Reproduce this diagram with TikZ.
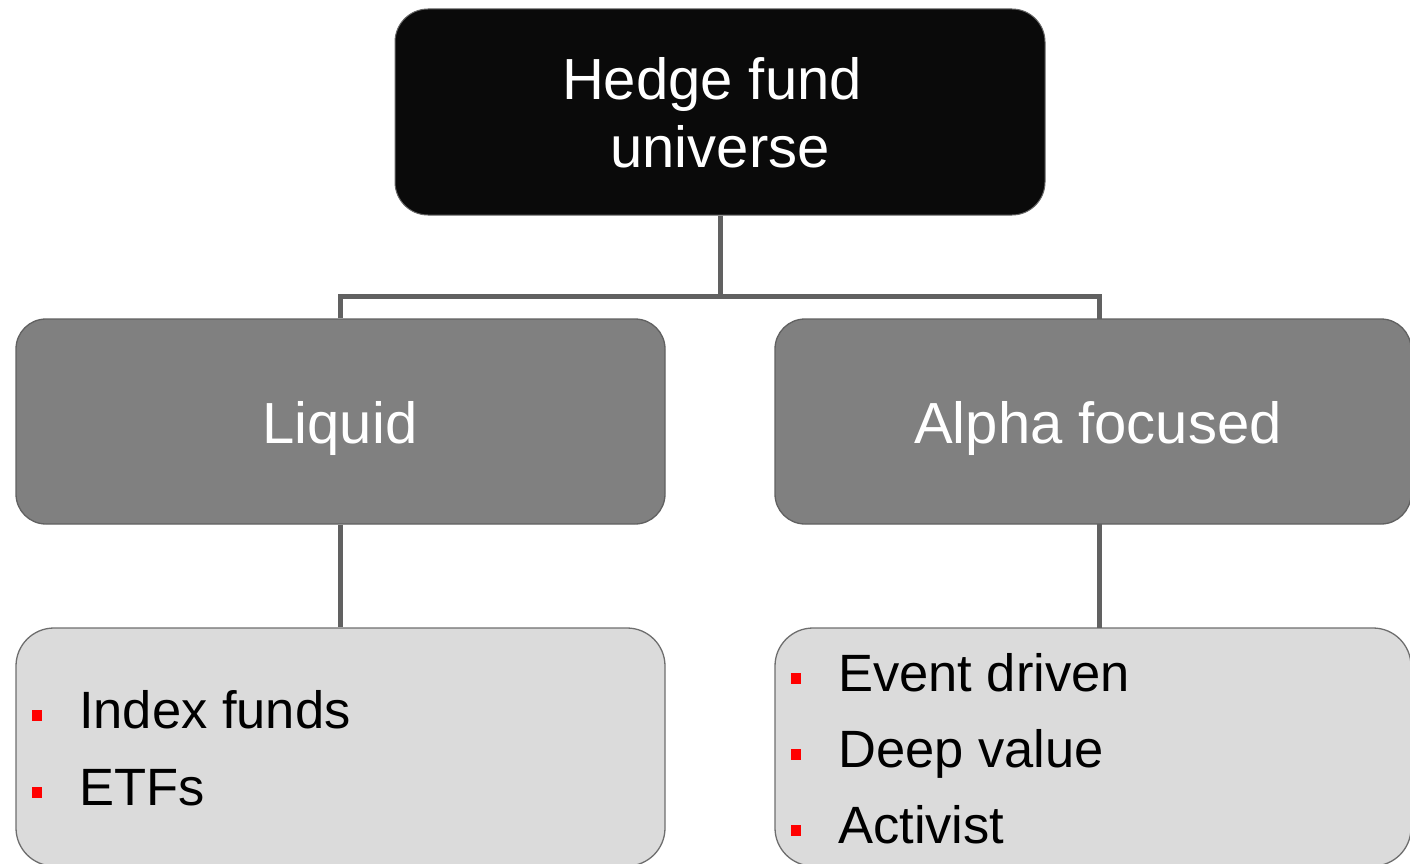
\documentclass[tikz,border=0pt]{standalone}
\usepackage{fontspec}
\setmainfont{Liberation Sans}
\begin{document}
\begin{tikzpicture}[x=1pt,y=-1pt,
  topbox/.style={draw=black!60,line width=1pt,fill=black!96,rounded corners=33pt,inner sep=0pt},
  midbox/.style={draw=black!62,line width=1.3pt,fill=black!50,rounded corners=30pt,inner sep=0pt},
  lowbox/.style={draw=black!57,line width=1.3pt,fill=black!14,rounded corners=38pt,inner sep=0pt},
  conn/.style={draw=black!62,line width=5pt},
  bigtxt/.style={font=\fontsize{58}{67}\selectfont,text=white,inner sep=0pt,anchor=base},
  itemtxt/.style={font=\fontsize{52.5}{76}\selectfont,text=black,inner sep=0pt,anchor=base west},
  bul/.style={fill=red,minimum width=9.5pt,minimum height=11pt,inner sep=0pt}
]
\useasboundingbox (0,0) rectangle (1410,864);
% boxes
\node[topbox,minimum width=650pt,minimum height=206pt] (top) at (720,112) {};
\node[midbox,minimum width=649pt,minimum height=205pt] (ml) at (340.5,421.5) {};
\node[midbox,minimum width=636pt,minimum height=205pt] (mr) at (1093,421.5) {};
\node[lowbox,minimum width=649pt,minimum height=238pt] (bl) at (340.5,747) {};
\node[lowbox,minimum width=636pt,minimum height=238pt] (br) at (1093,747) {};
% connectors
\coordinate (j) at (720,296);
\coordinate (mrn) at (1099,319);
\coordinate (mrs) at (1099,524);
\coordinate (brn) at (1099,628);
\draw[conn] (top.south) -- (j);
\draw[conn] (ml.north) |- (j) -| (mrn);
\draw[conn] (ml.south) -- (bl.north);
\draw[conn] (mrs) -- (brn);
% texts
\node[bigtxt] (t1) at (712,100) {Hedge fund};
\node[bigtxt] (t2) at (720,167) {universe};
\node[bigtxt] (t3) at (340,443) {Liquid};
\node[bigtxt] (t4) at (1098,443) {Alpha focused};
\node[itemtxt] (i1) at (79,728) {Index funds};
\node[itemtxt] (i2) at (79,805) {ETFs};
\node[itemtxt] (i3) at (838,691) {Event driven};
\node[itemtxt] (i4) at (838,767) {Deep value};
\node[itemtxt] (i5) at (838,843) {Activist};
\node[bul] (b1) at (37,715) {};
\node[bul] (b2) at (37,792) {};
\node[bul] (b3) at (796,678) {};
\node[bul] (b4) at (796,754) {};
\node[bul] (b5) at (796,830) {};
\end{tikzpicture}
\end{document}
